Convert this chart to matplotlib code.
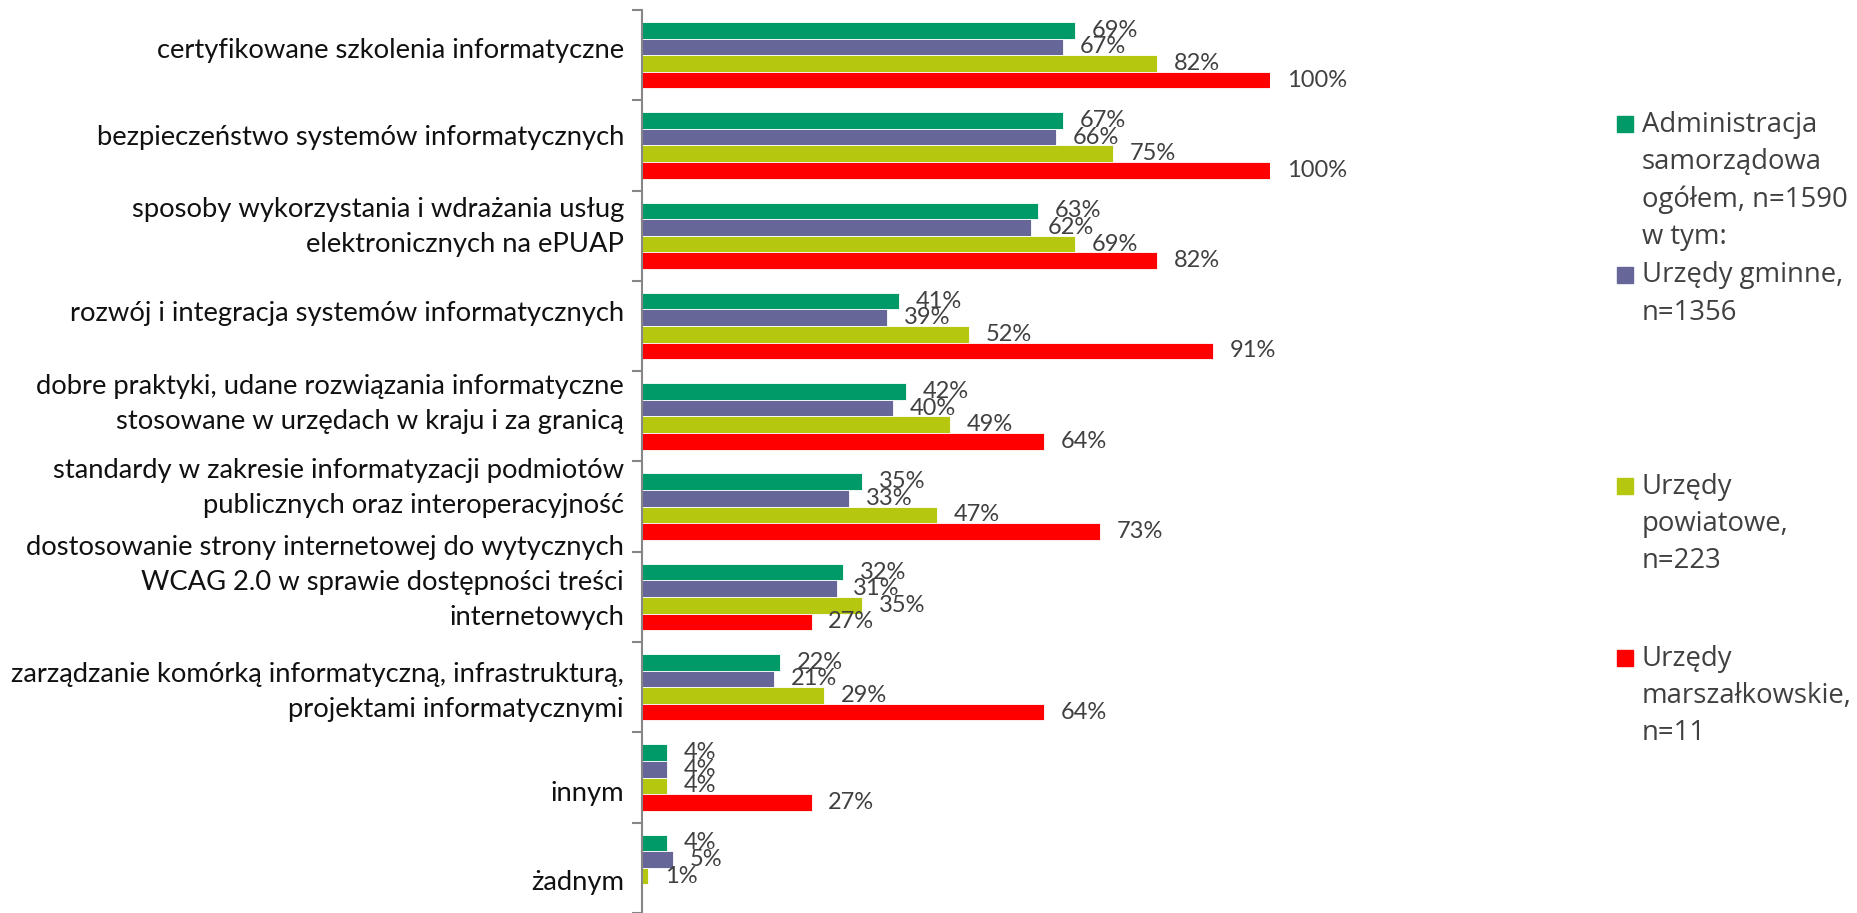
import numpy as np
import matplotlib.pyplot as plt
from matplotlib.patches import Rectangle
from matplotlib.transforms import ScaledTranslation

categories = [
    "certyfikowane szkolenia informatyczne",
    "bezpieczeństwo systemów informatycznych",
    "sposoby wykorzystania i wdrażania usług\nelektronicznych na ePUAP",
    "rozwój i integracja systemów informatycznych",
    "dobre praktyki, udane rozwiązania informatyczne\nstosowane w urzędach w kraju i za granicą",
    "standardy w zakresie informatyzacji podmiotów\npublicznych oraz interoperacyjność",
    "dostosowanie strony internetowej do wytycznych\nWCAG 2.0 w sprawie dostępności treści\ninternetowych",
    "zarządzanie komórką informatyczną, infrastrukturą,\nprojektami informatycznymi",
    "innym",
    "żadnym",
]

ogolem = [69, 67, 63, 41, 42, 35, 32, 22, 4, 4]
gminne = [67, 66, 62, 39, 40, 33, 31, 21, 4, 5]
powiatowe = [82, 75, 69, 52, 49, 47, 35, 29, 4, 1]
marszalkowskie = [100, 100, 82, 91, 64, 73, 27, 64, 27, 0]

series_names = [
    "Administracja\nsamorządowa\nogółem, n=1590\nw tym:",
    "Urzędy gminne,\nn=1356",
    "Urzędy\npowiatowe,\nn=223",
    "Urzędy\nmarszałkowskie,\nn=11",
]
colors = ["#009A68", "#666699", "#B5C80F", "#FF0000"]

# excel does not centre the category texts exactly on the groups (pixels, up is +)
label_dy = [5, 8, 9, 13, 12, 19, 14, -5, -16, -15]

W, H = 1858, 913
fig = plt.figure(figsize=(W / 100, H / 100), dpi=100)
ax = fig.add_axes([642 / W, 0, 628 / W, (H - 10) / H])

y = np.arange(len(categories))
h = 0.184
series = [ogolem, gminne, powiatowe, marszalkowskie]
for i, (vals, col) in enumerate(zip(series, colors)):
    bars = ax.barh(y + (i - 1.5) * h, np.array(vals) / 100, height=h, color=col,
                   edgecolor="white", linewidth=0.6)
    labels = [f"{v}%" if v > 0 else "" for v in vals]
    ax.bar_label(bars, labels=labels, padding=12, fontsize=17, color="#404040",
                 family="Lato", clip_on=False)

ax.set_xlim(0, 1)
ax.set_ylim(len(categories) - 0.5, -0.5)
ax.set_yticks(np.arange(len(categories) + 1) - 0.5)
ax.set_yticklabels([])
ax.tick_params(axis="y", length=7, width=1.5, color="#868686")
ax.set_xticks([])
for s in ["top", "right", "bottom"]:
    ax.spines[s].set_visible(False)
ax.spines["left"].set_color("#868686")
ax.spines["left"].set_linewidth(1.5)

for yi, cat, dy in zip(y, categories, label_dy):
    tr = ax.get_yaxis_transform() + ScaledTranslation(-18 / 100, dy / 100, fig.dpi_scale_trans)
    ax.text(0, yi, cat, transform=tr, ha="right", va="center", fontsize=19.7,
            family="Lato", color="#111111", multialignment="right", linespacing=1.5,
            clip_on=False)

# legend, drawn by hand to keep the uneven spacing
first_line_y = [124, 275, 486, 658]
line_h = 38
for name, col, fy in zip(series_names, colors, first_line_y):
    n = name.count("\n") + 1
    cy = fy + (n - 1) * line_h / 2
    fig.text(1642 / W, 1 - cy / H, name, fontsize=19.8, family="Open Sans",
             color="#404040", va="center", ha="left", linespacing=1.43)
    fig.patches.append(Rectangle((1617 / W, 1 - (fy + 8) / H), 16 / W, 16 / H,
                                 transform=fig.transFigure, color=col))

fig.savefig("out.png", dpi=100)
